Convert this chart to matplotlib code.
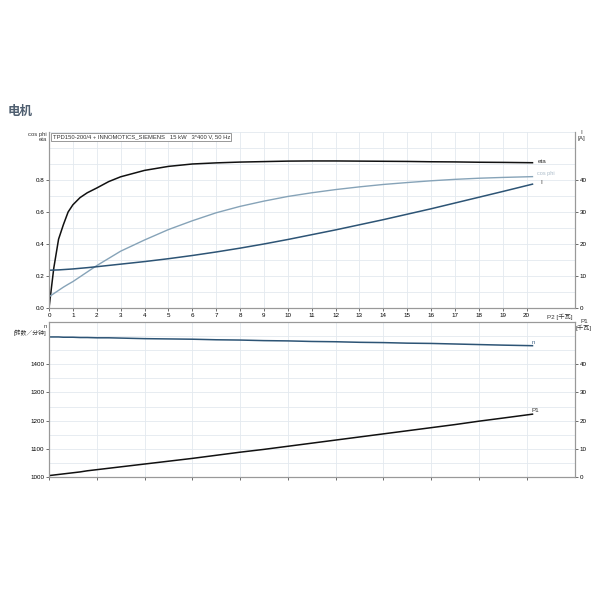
import numpy as np
import matplotlib
matplotlib.use("Agg")
import matplotlib.pyplot as plt

plt.rcParams['font.family'] = ['Liberation Sans', 'Noto Sans CJK SC', 'DejaVu Sans']

# P2 [kW] sample points for the curves
p2 = [0, 0.2, 0.4, 0.6, 0.8, 1, 1.3, 1.6, 2, 2.5, 3, 3.5, 4, 5, 6, 7, 8, 9, 10,
      11, 12, 13, 14, 15, 16, 17, 18, 19, 20.25]
eta = [0, 0.25, 0.43, 0.52, 0.60, 0.645, 0.69, 0.72, 0.75, 0.79, 0.82, 0.84, 0.86, 0.885, 0.90, 0.907, 0.912, 0.915, 0.918,
       0.919, 0.919, 0.918, 0.917, 0.916, 0.914, 0.913, 0.911, 0.910, 0.908]
cos_phi = [0.07, 0.09, 0.11, 0.13, 0.148, 0.165, 0.195, 0.225, 0.265, 0.31, 0.355, 0.39, 0.425, 0.49, 0.545, 0.595, 0.635, 0.668, 0.697,
           0.72, 0.74, 0.757, 0.772, 0.784, 0.795, 0.804, 0.811, 0.816, 0.821]
current = [11.8, 11.85, 11.9, 12.0, 12.1, 12.2, 12.4, 12.6, 12.9, 13.3, 13.7, 14.1, 14.5, 15.4, 16.4, 17.5, 18.7, 20.0, 21.4,
           22.9, 24.4, 26.0, 27.6, 29.3, 31.0, 32.8, 34.6, 36.4, 38.7]
speed = [1497, 1497, 1497, 1496, 1496, 1496, 1495, 1495, 1494, 1494, 1493, 1492, 1491, 1490, 1489, 1487, 1486, 1484, 1483,
         1481, 1480, 1478, 1477, 1475, 1474, 1472, 1470, 1468, 1466]
p1 = [0.5, 0.7, 0.9, 1.1, 1.3, 1.5, 1.8, 2.2, 2.6, 3.1, 3.6, 4.1, 4.6, 5.6, 6.6, 7.7, 8.8, 9.8, 10.9,
      12.0, 13.1, 14.2, 15.3, 16.4, 17.5, 18.6, 19.8, 20.9, 22.3]

x_ticks = list(range(0, 21))
header = "TPD150-200/4 + INNOMOTICS_SIEMENS   15 kW   3*400 V, 50 Hz"

c_eta = "#111111"
c_cos = "#86a3b8"
c_i = "#2d5475"
c_grid = "#e3e9ef"
c_spine = "#999999"
fs = 4.5

fig = plt.figure(figsize=(6, 6), dpi=100)
ax1 = fig.add_axes([0.0817, 0.4867, 0.8766, 0.2933])
ax2 = fig.add_axes([0.0817, 0.205, 0.8766, 0.2583])

fig.text(0.013, 0.808, "电机", fontsize=9, fontweight="bold", color="#4f5f70")


def style(ax):
    for s in ax.spines.values():
        s.set_color(c_spine)
        s.set_linewidth(0.8)
    ax.tick_params(labelsize=fs, length=2, width=0.6, color="#555555", pad=1.5)
    ax.set_axisbelow(True)


# --- top panel ---
ax1.set_xlim(0, 22.03)
ax1.set_ylim(0, 1.1)
ax1.set_xticks(x_ticks)
ax1.set_yticks([0, 0.2, 0.4, 0.6, 0.8])
ax1.set_yticks(np.arange(0, 1.11, 0.1), minor=True)
ax1.tick_params(which="minor", length=0)
ax1.grid(True, which="both", color=c_grid, linewidth=0.6)
ax1.spines["top"].set_visible(False)
style(ax1)
ax1.plot(p2, eta, color=c_eta, lw=1.1)
ax1.plot(p2, cos_phi, color=c_cos, lw=1.0)

ax1r = ax1.twinx()
ax1r.set_ylim(0, 55)
ax1r.set_yticks([0, 10, 20, 30, 40])
ax1r.spines["top"].set_visible(False)
style(ax1r)
ax1r.plot(p2, current, color=c_i, lw=1.1)

ax1.text(20.45, eta[-1] + 0.01, "eta", fontsize=fs, color="#333333", va="center")
ax1.text(20.45, cos_phi[-1] + 0.02, "cos phi", fontsize=fs - 0.5, color="#aabbc8", va="center")
ax1r.text(20.6, current[-1] + 0.5, "I", fontsize=fs, color="#333333", va="center")
ax1.text(21.4, -0.035, "P2 [千瓦]", fontsize=fs, va="top", ha="center", color="#333333")
ax1.text(-0.1, 1.1, "cos phi\neta", fontsize=fs - 0.3, ha="right", va="top",
         linespacing=1.1, color="#333333")
ax1r.text(22.3, 55.5, "I\n[A]", fontsize=fs, ha="center", va="top",
          linespacing=1.1, color="#333333")
ax1.text(0.15, 1.085, header, fontsize=4.2, va="top", ha="left", color="#333333",
         bbox=dict(boxstyle="square,pad=0.25", fc="white", ec="#888888", lw=0.6))

# --- bottom panel ---
ax2.set_xlim(0, 22.03)
ax2.set_ylim(1000, 1550)
ax2.set_xticks(range(0, 22, 2))
ax2.set_yticks([1000, 1100, 1200, 1300, 1400])
ax2.set_yticks(np.arange(1000, 1551, 50), minor=True)
ax2.tick_params(which="minor", length=0)
ax2.tick_params(axis="x", length=0, labelbottom=False)
ax2.grid(True, which="both", color=c_grid, linewidth=0.6)
style(ax2)
ax2.plot(p2, speed, color=c_i, lw=1.1)

ax2r = ax2.twinx()
ax2r.set_ylim(0, 55)
ax2r.set_yticks([0, 10, 20, 30, 40])
style(ax2r)
ax2r.plot(p2, p1, color=c_eta, lw=1.1)

ax2.text(20.2, speed[-1] + 4, "n", fontsize=fs, color="#446688", va="bottom")
ax2r.text(20.2, p1[-1] + 0.5, "P1", fontsize=fs, color="#333333", va="bottom")
ax2.text(-0.1, 1543, "n\n[转数／分钟]", fontsize=fs - 0.3, ha="right", va="top",
         linespacing=1.1, color="#333333")
ax2r.text(22.4, 56, "P1\n[千瓦]", fontsize=fs, ha="center", va="top",
          linespacing=1.1, color="#333333")

fig.savefig("out.png", dpi=100)
